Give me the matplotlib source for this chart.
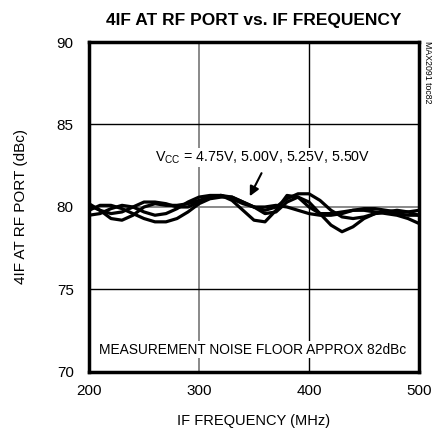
import matplotlib
matplotlib.use("Agg")
import matplotlib.pyplot as plt
from matplotlib import font_manager

freq = [200, 210, 220, 230, 240, 250, 260, 270, 280, 290, 300, 310, 320, 330, 340, 350,
        360, 370, 380, 390, 400, 410, 420, 430, 440, 450, 460, 470, 480, 490, 500]

vcc_475 = [80.2, 79.8, 79.3, 79.2, 79.5, 80.0, 80.2, 80.1, 80.1, 80.2, 80.4, 80.6, 80.7, 80.6, 80.3, 80.0,
           79.6, 79.7, 80.3, 80.6, 80.3, 79.6, 78.9, 78.5, 78.8, 79.3, 79.6, 79.7, 79.6, 79.5, 79.5]
vcc_500 = [79.8, 80.1, 80.1, 79.9, 79.6, 79.3, 79.1, 79.1, 79.3, 79.7, 80.2, 80.5, 80.6, 80.6, 80.3, 80.0,
           79.8, 80.0, 80.5, 80.8, 80.8, 80.4, 79.8, 79.4, 79.3, 79.4, 79.6, 79.7, 79.8, 79.7, 79.5]
vcc_525 = [79.5, 79.6, 79.9, 80.1, 80.0, 79.7, 79.5, 79.6, 79.9, 80.3, 80.6, 80.7, 80.7, 80.4, 79.8, 79.2,
           79.1, 79.8, 80.7, 80.6, 80.0, 79.6, 79.6, 79.7, 79.8, 79.8, 79.7, 79.6, 79.5, 79.3, 79.0]
vcc_550 = [80.1, 79.8, 79.6, 79.7, 80.0, 80.3, 80.3, 80.2, 80.0, 80.0, 80.3, 80.6, 80.7, 80.5, 80.2, 80.0,
           80.0, 80.1, 80.0, 79.8, 79.6, 79.5, 79.5, 79.6, 79.8, 79.9, 79.9, 79.8, 79.7, 79.7, 79.8]

x_ticks = [200, 300, 400, 500]
y_ticks = [70, 75, 80, 85, 90]

avail = {f.name for f in font_manager.fontManager.ttflist}
fam = ['Liberation Sans Narrow'] if 'Liberation Sans Narrow' in avail else ['Liberation Sans']
plt.rcParams['font.family'] = fam + ['DejaVu Sans']

fig = plt.figure(figsize=(4.33, 4.44), dpi=100)
ax = fig.add_axes([0.2055, 0.1622, 0.7622, 0.7432])

for ys in (vcc_475, vcc_500, vcc_525, vcc_550):
    ax.plot(freq, ys, color='black', lw=2.3, solid_capstyle='round', solid_joinstyle='round', zorder=3)

ax.set_xlim(200, 500)
ax.set_ylim(70, 90)
ax.set_xticks(x_ticks)
ax.set_yticks(y_ticks)
ax.tick_params(axis='x', length=0, labelsize=11, pad=9)
ax.tick_params(axis='y', length=0, labelsize=11, pad=11)

ax.axvline(300, color='#808080', lw=1.3, zorder=1)
ax.axvline(400, color='black', lw=1.0, zorder=1)
ax.axhline(75, color='black', lw=1.0, zorder=1)
ax.axhline(80, color='#808080', lw=1.3, zorder=1)
ax.axhline(85, color='black', lw=1.0, zorder=1)

for s in ax.spines.values():
    s.set_linewidth(2.5)

ax.set_xlabel('IF FREQUENCY (MHz)', fontsize=10.5, labelpad=11)
ax.set_ylabel('4IF AT RF PORT (dBc)', fontsize=11, labelpad=21)
ax.set_title('4IF AT RF PORT vs. IF FREQUENCY', fontsize=12.5, fontweight='bold', pad=12)

ax.text(358, 83.0, r'V$_\mathregular{CC}$ = 4.75V, 5.00V, 5.25V, 5.50V', ha='center', va='center',
        fontsize=10.3, zorder=4, bbox=dict(facecolor='white', edgecolor='none', pad=1))
ax.annotate('', xy=(345, 80.5), xytext=(358, 82.2),
            arrowprops=dict(arrowstyle='-|>', color='black', lw=1.5, mutation_scale=14), zorder=5)

ax.text(349, 71.35, 'MEASUREMENT NOISE FLOOR APPROX 82dBc', ha='center', va='center',
        fontsize=9.9, zorder=4, bbox=dict(facecolor='white', edgecolor='none', pad=1))

fig.text(0.988, 0.838, 'MAX2091 toc82', rotation=270, ha='center', va='center', fontsize=6.3)

fig.savefig('out.png', dpi=100)
